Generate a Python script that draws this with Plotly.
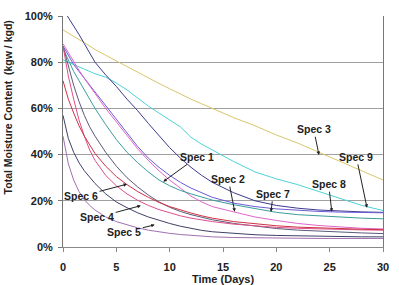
import plotly.graph_objects as go

DAYS = [0, 0.5, 1, 1.5, 2, 2.5, 3, 4, 5, 6, 7, 8, 9, 10, 11, 12, 13, 14, 16, 18, 20, 22, 24, 26, 28, 30]

spec3 = [94, 92.5, 91, 89.8, 88.5, 87, 85.5, 83, 80.5, 78, 75.5, 73, 70.8, 68.5, 66.2, 64, 62, 60, 56, 52.5, 48.5, 45, 41, 37, 33, 29]
spec9 = [81, 80, 79, 78, 77, 76, 75, 73.5, 71, 68, 64.5, 61, 58, 55, 52, 47.5, 44.5, 42, 37, 32.5, 29.5, 27, 24, 21, 18, 15.8]
navy = [103, 99.5, 96, 92, 88, 84, 80, 74.5, 69.5, 64, 59, 53.5, 48, 43, 38.5, 34.5, 31, 28, 23.5, 20, 18, 16.8, 16, 15.5, 15.2, 15]
purple = [87, 83, 79, 76, 73, 70, 67, 61, 55, 49, 43.5, 38.5, 34.5, 31, 28, 25.5, 23.5, 21.5, 19, 17.5, 16.5, 15.8, 15.4, 15.1, 14.9, 14.8]
magenta = [88, 84, 80, 76.5, 73, 69.5, 66.5, 60, 54, 48, 42.5, 37.5, 33, 29, 25.5, 22, 19.5, 17.5, 15.2, 13, 11.5, 10.2, 9.3, 8.6, 8.1, 7.8]
teal = [86, 81, 76, 72, 68, 64, 60, 53, 46.5, 41, 36.5, 32.5, 29, 26.5, 24.5, 23, 21.5, 20.3, 18.3, 16.5, 15, 14, 13.4, 12.9, 12.5, 12.2]
darkg = [87, 78, 70, 63, 57, 52, 48, 41, 35, 30, 26, 22.5, 19.5, 17.2, 15.4, 14, 12.8, 11.8, 10.2, 9, 8, 7.3, 6.8, 6.4, 6.1, 5.8]
pink = [87, 74, 64, 55, 48, 42, 37.5, 31, 26.5, 23, 20.2, 18, 16.2, 14.7, 13.5, 12.5, 11.7, 11, 9.9, 9.1, 8.5, 8.1, 7.8, 7.6, 7.4, 7.3]
red = [72, 64, 58, 52.5, 48, 44, 40.5, 35, 30.5, 27, 24, 21.5, 19.3, 17.5, 16, 14.7, 13.5, 12.5, 11, 10, 9.2, 8.6, 8.2, 7.9, 7.7, 7.5]
darki = [57, 47, 41, 36.5, 33, 30, 27.5, 23, 19.5, 17, 14.8, 13, 11.5, 10.2, 9, 8, 7.2, 6.6, 5.8, 5.3, 5, 4.8, 4.6, 4.5, 4.4, 4.4]
lowest = [48, 36, 29, 24, 20.5, 18, 16, 13, 11, 9.5, 8.3, 7.3, 6.5, 5.9, 5.4, 5, 4.7, 4.4, 4.1, 3.9, 3.8, 3.8, 3.7, 3.7, 3.7, 3.7]

SERIES = [
    ("Spec 3", spec3, "#d9c66b"),
    ("Spec 9", spec9, "#4fd2d6"),
    ("navy", navy, "#3b3b8f"),
    ("purple", purple, "#6b5bd6"),
    ("magenta", magenta, "#e065c8"),
    ("teal", teal, "#3a9e9a"),
    ("darkg", darkg, "#5a5a7a"),
    ("pink", pink, "#e0508a"),
    ("red", red, "#cc3344"),
    ("darki", darki, "#404068"),
    ("lowest", lowest, "#a070b0"),
]

LABELS = ["Spec 3", "Spec 9", "Spec 8", "Spec 7", "Spec 2", "Spec 1", "Spec 6", "Spec 4", "Spec 5"]
LABEL_X = [23.5, 27.5, 24.9, 19.7, 15.5, 12.6, 1.7, 3.2, 5.75]
LABEL_Y = [51, 39, 27.2, 23, 29.4, 39, 22, 12.8, 6.4]
TIP_X = [24, 28.5, 25.2, 19.5, 16.1, 9.4, 6.0, 7.3, 8.6]
TIP_Y = [39.8, 17, 15.3, 15.2, 15.3, 28.3, 27.2, 17.9, 9.6]

X_TITLE = "Time (Days)"
Y_TITLE = "Total Moisture Content  (kgw / kgd)"

fig = go.Figure()
for name, vals, col in SERIES:
    fig.add_trace(go.Scatter(x=DAYS, y=vals, mode="lines", name=name,
                             line=dict(color=col, width=1)))

for lab, lx, ly, tx, ty in zip(LABELS, LABEL_X, LABEL_Y, TIP_X, TIP_Y):
    fig.add_annotation(x=tx, y=ty, ax=lx, ay=ly, axref="x", ayref="y",
                       text="<b>" + lab + "</b>", showarrow=True,
                       arrowhead=2, arrowsize=0.7, arrowwidth=1, arrowcolor="#222",
                       font=dict(family="Liberation Sans", size=10.5, color="#222"))

bold = dict(family="Liberation Sans", size=11, color="#222", weight="bold")
fig.add_annotation(x=0.5, y=-0.14, xref="paper", yref="paper", text=X_TITLE,
                   showarrow=False, xanchor="center", yanchor="middle", font=bold)
fig.add_annotation(x=-0.169, y=0.604, xref="paper", yref="paper", text=Y_TITLE,
                   showarrow=False, textangle=-90, xanchor="center", yanchor="middle",
                   font=dict(family="Liberation Sans", size=10.5, color="#222", weight="bold"))

fig.update_layout(
    width=399, height=285,
    margin=dict(l=63, r=10, t=12, b=38),
    paper_bgcolor="white", plot_bgcolor="white",
    showlegend=False,
    font=dict(family="Liberation Sans", color="#222"),
)
fig.update_xaxes(range=[0, 30], dtick=5, tick0=0, showgrid=False, zeroline=False,
                 showline=True, linecolor="#888", linewidth=1, mirror=False,
                 ticks="outside", ticklen=4, tickcolor="#888", ticklabelstandoff=6,
                 tickfont=bold)
fig.update_yaxes(range=[0, 100], dtick=20, tick0=0, ticksuffix="%",
                 showgrid=True, gridcolor="#a0a0a0", gridwidth=1, zeroline=False,
                 showline=True, linecolor="#777", linewidth=1, mirror=True,
                 ticks="outside", ticklen=4, tickcolor="#777", ticklabelstandoff=3,
                 tickfont=bold)

fig.write_html("out.html")
